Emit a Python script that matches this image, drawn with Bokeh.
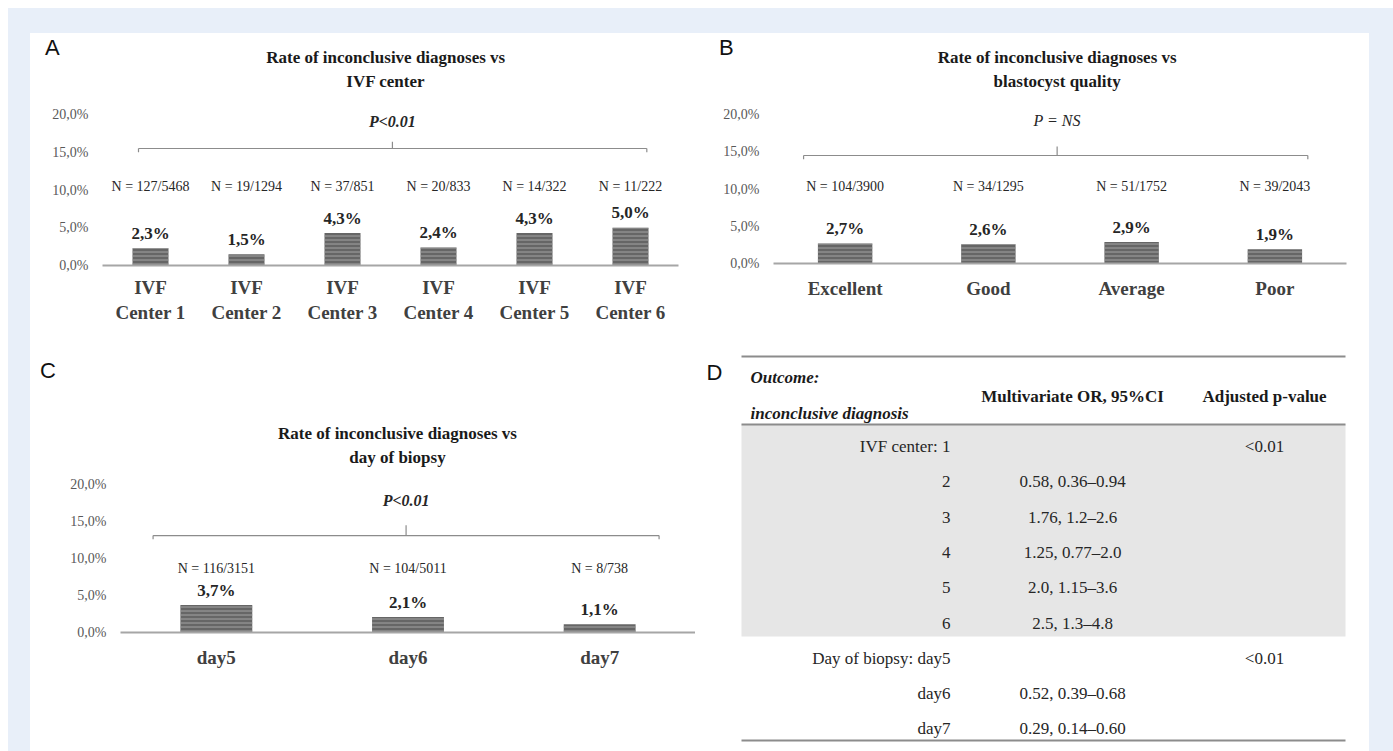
from bokeh.plotting import figure
from bokeh.models import Range1d, FixedTicker, Label, ColumnDataSource, Spacer
from bokeh.layouts import column, row
from bokeh.embed import file_html
from bokeh.resources import INLINE
from bokeh.core.properties import value

BG = "#e8eff9"
SERIF = "Liberation Serif"
SANS = "Liberation Sans"
TXT = "#262626"

# ---------------- data ----------------
centers = ["IVF\nCenter 1", "IVF\nCenter 2", "IVF\nCenter 3", "IVF\nCenter 4", "IVF\nCenter 5", "IVF\nCenter 6"]
center_rates = [2.3, 1.5, 4.3, 2.4, 4.3, 5.0]
center_n = ["N = 127/5468", "N = 19/1294", "N = 37/851", "N = 20/833", "N = 14/322", "N = 11/222"]

quality = ["Excellent", "Good", "Average", "Poor"]
quality_rates = [2.7, 2.6, 2.9, 1.9]
quality_n = ["N = 104/3900", "N = 34/1295", "N = 51/1752", "N = 39/2043"]

days = ["day5", "day6", "day7"]
day_rates = [3.7, 2.1, 1.1]
day_n = ["N = 116/3151", "N = 104/5011", "N = 8/738"]

y_ticks = [0, 5, 10, 15, 20]
y_tick_labels = ["0,0%", "5,0%", "10,0%", "15,0%", "20,0%"]

table_rows = ["IVF center: 1", "2", "3", "4", "5", "6", "Day of biopsy: day5", "day6", "day7"]
table_or = ["", "0.58, 0.36\u20130.94", "1.76, 1.2\u20132.6", "1.25, 0.77\u20132.0", "2.0, 1.15\u20133.6",
            "2.5, 1.3\u20134.8", "", "0.52, 0.39\u20130.68", "0.29, 0.14\u20130.60"]
table_p = ["<0.01", "", "", "", "", "", "<0.01", "", ""]
table_header = ["Multivariate OR, 95%CI", "Adjusted p-value"]


def bar_panel(letter, letter_xy, title_lines, title_x, title_ys, cats, rates, ns,
              p_text, p_style, p_x, p_y, br_y, br_l, br_r, br_top, n_y,
              w, h, bl, br, bb, bt, px_pct, bar_w, xstand):
    n = len(cats)
    frame_h = h - bb - bt
    p = figure(width=w, height=h, output_backend="svg", toolbar_location=None,
               x_range=Range1d(-0.5, n - 0.5), y_range=Range1d(0, frame_h / px_pct),
               min_border_left=bl, min_border_right=br, min_border_bottom=bb, min_border_top=bt)
    p.outline_line_color = None
    p.background_fill_color = None
    p.border_fill_color = None
    p.xgrid.visible = False
    p.ygrid.visible = False

    p.yaxis.ticker = FixedTicker(ticks=y_ticks)
    p.yaxis.major_label_overrides = {t: l for t, l in zip(y_ticks, y_tick_labels)}
    p.yaxis.axis_line_color = None
    p.yaxis.major_tick_line_color = None
    p.yaxis.minor_tick_line_color = None
    p.yaxis.major_tick_out = 0
    p.yaxis.major_tick_in = 0
    p.yaxis.minor_tick_out = 0
    p.yaxis.major_label_text_font = SERIF
    p.yaxis.major_label_text_font_size = "14px"
    p.yaxis.major_label_text_color = "#595959"
    p.yaxis.major_label_standoff = 14

    p.xaxis.ticker = FixedTicker(ticks=list(range(n)))
    p.xaxis.major_label_overrides = {i: c for i, c in enumerate(cats)}
    p.xaxis.axis_line_color = "#a6a6a6"
    p.xaxis.axis_line_width = 2
    p.xaxis.major_tick_line_color = None
    p.xaxis.minor_tick_line_color = None
    p.xaxis.major_tick_out = 0
    p.xaxis.major_tick_in = 0
    p.xaxis.minor_tick_out = 0
    p.xaxis.major_label_text_font = SERIF
    p.xaxis.major_label_text_font_style = "bold"
    p.xaxis.major_label_text_font_size = "19px"
    p.xaxis.major_label_text_color = "#404040"
    p.xaxis.major_label_standoff = xstand

    src = ColumnDataSource(dict(
        x=list(range(n)), top=rates,
        lab=[f"{r:.1f}%".replace(".", ",") for r in rates],
        ly=[r + 0.7 for r in rates],
        n=ns, ny=[n_y] * n))
    p.vbar(x="x", top="top", width=bar_w, source=src, fill_color="#666666", line_color=None,
           hatch_pattern="horizontal_line", hatch_color="#a3a3a3", hatch_scale=4, hatch_weight=1)
    p.text(x="x", y="ly", text="lab", source=src, text_font=value(SERIF), text_font_style="bold",
           text_font_size="17px", text_align="center", text_baseline="bottom", text_color=TXT)
    p.text(x="x", y="ny", text="n", source=src, text_font=value(SERIF),
           text_font_size="14px", text_align="center", text_baseline="middle", text_color=TXT)

    # bracket
    d = 0.5
    p.segment(x0=[br_l, br_l, br_r, p_x], y0=[br_y, br_y - d, br_y - d, br_y],
              x1=[br_r, br_l, br_r, p_x], y1=[br_y, br_y, br_y, br_top],
              line_color="#8c8c8c", line_width=1.2)
    p.text(x=[p_x], y=[p_y], text=[p_text], text_font=value(SERIF), text_font_style=p_style,
           text_font_size="16px", text_align="center", text_baseline="middle", text_color=TXT)

    p.text(x=[title_x] * len(title_lines), y=title_ys, text=title_lines, text_font=value(SERIF),
           text_font_style="bold", text_font_size="17px", text_align="center", text_baseline="middle",
           text_color="#1a1a1a")
    # panel letter sits left of the frame: put it in the left side panel so it is not clipped
    p.add_layout(Label(x=letter_xy[0], y=letter_xy[1], text=letter, text_font=SANS,
                       text_font_size="22px", text_align="left", text_baseline="middle",
                       text_color="#111111"), "left")
    return p


pA = bar_panel("A", (-1.1, 28.9), ["Rate of inconclusive diagnoses vs", "IVF center"], 2.45, [27.5, 24.4],
               centers, center_rates, center_n, "P<0.01", "bold italic", 2.52, 19.1,
               15.5, -0.125, 5.17, 16.4, 10.5,
               665, 307, 72, 17, 75, 8, 7.55, 0.375, 11)

pB = bar_panel("B", (-0.88, 29.0), ["Rate of inconclusive diagnoses vs", "blastocyst quality"], 1.48, [27.6, 24.4],
               quality, quality_rates, quality_n, "P = NS", "italic", 1.48, 19.2,
               14.5, -0.29, 3.23, 15.7, 10.3,
               674, 307, 78, 23, 77, 8, 7.45, 0.38, 14)

pC = bar_panel("C", (-0.92, 35.4), ["Rate of inconclusive diagnoses vs", "day of biopsy"], 0.945, [26.9, 23.6],
               days, day_rates, day_n, "P<0.01", "bold italic", 0.99, 17.8,
               13.1, -0.33, 2.31, 14.5, 8.6,
               665, 411, 90, 0, 119, 8, 7.4, 0.375, 14)

# ---------------- table panel D ----------------
DH = 411
pD = figure(width=674, height=DH, output_backend="svg", toolbar_location=None,
            x_range=Range1d(0, 674), y_range=Range1d((DH - 106) / 35.3, -106 / 35.3),
            min_border=0, min_border_left=0, min_border_right=0, min_border_top=0, min_border_bottom=0)
pD.axis.visible = False
pD.grid.visible = False
pD.outline_line_color = None
pD.background_fill_color = None
pD.border_fill_color = None

ridx = list(range(len(table_rows)))
pD.quad(left=[46], right=[650], top=[-0.62], bottom=[5.38], fill_color="#e6e6e6", line_color=None)
pD.segment(x0=[46, 46, 46], x1=[650, 650, 650], y0=[-2.55, -0.62, 8.33], y1=[-2.55, -0.62, 8.33],
           line_color="#8c8c8c", line_width=2)
tsrc = ColumnDataSource(dict(y=ridx, lab=table_rows, orv=table_or, pv=table_p,
                             xl=[255] * len(ridx), xo=[377] * len(ridx), xp=[569] * len(ridx)))
pD.text(x="xl", y="y", text="lab", source=tsrc, text_font=value(SERIF), text_font_size="17px",
        text_align="right", text_baseline="middle", text_color=TXT)
pD.text(x="xo", y="y", text="orv", source=tsrc, text_font=value(SERIF), text_font_size="17px",
        text_align="center", text_baseline="middle", text_color=TXT)
pD.text(x="xp", y="y", text="pv", source=tsrc, text_font=value(SERIF), text_font_size="17px",
        text_align="center", text_baseline="middle", text_color=TXT)
pD.text(x=[55, 55], y=[-1.95, -0.93], text=["Outcome:", "inconclusive diagnosis"], text_font=value(SERIF),
        text_font_style="bold italic", text_font_size="17px", text_align="left", text_baseline="middle",
        text_color="#1a1a1a")
pD.text(x=[377, 569], y=[-1.42, -1.42], text=table_header, text_font=value(SERIF),
        text_font_style="bold", text_font_size="17px", text_align="center", text_baseline="middle",
        text_color="#1a1a1a")
pD.text(x=[11], y=[-2.1], text=["D"], text_font=value(SANS), text_font_size="22px",
        text_align="left", text_baseline="middle", text_color="#111111")

card = column(row(column(pA), column(pB)), row(column(pC), column(pD)),
              styles={"background-color": "white"})
blue = column(Spacer(width=1385, height=25, styles={"background-color": BG}),
              row(Spacer(width=22, height=718, styles={"background-color": BG}), card,
                  Spacer(width=24, height=718, styles={"background-color": BG})),
              styles={"background-color": BG})
layout = column(Spacer(width=1393, height=8),
                row(Spacer(width=8, height=743), blue))

open("out.html", "w").write(file_html(layout, INLINE))
